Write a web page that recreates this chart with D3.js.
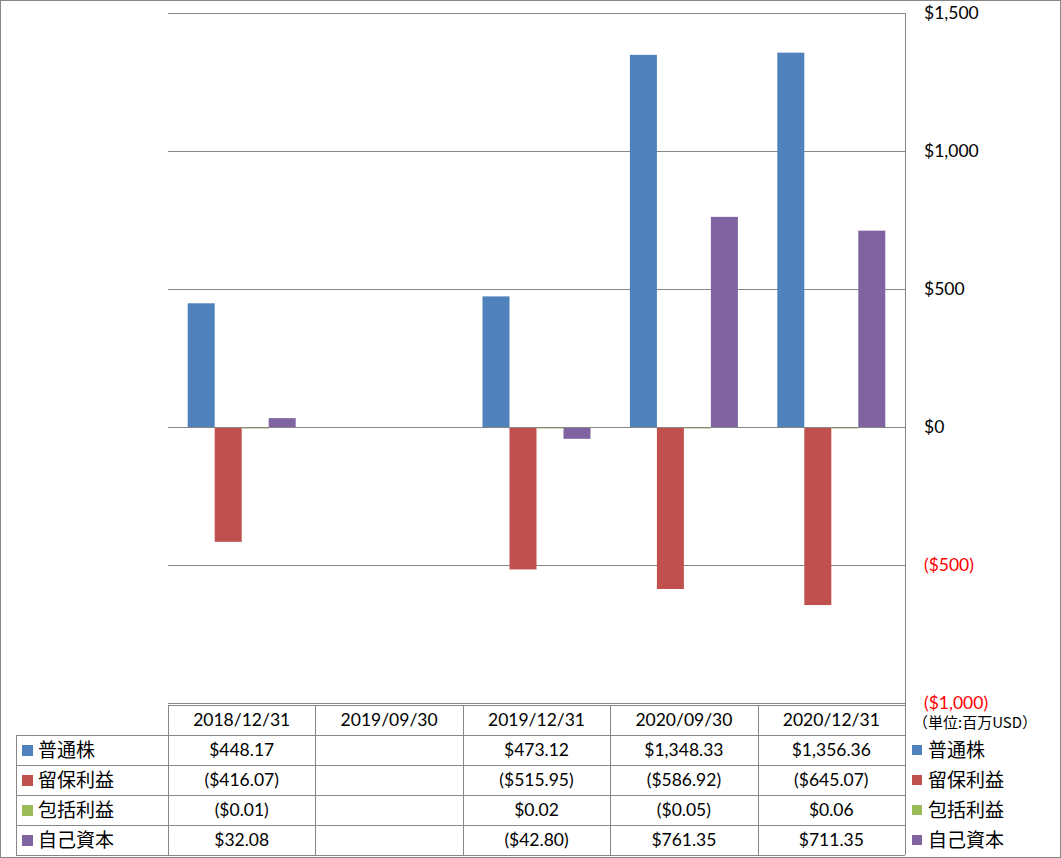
<!DOCTYPE html>
<html>
<head>
<meta charset="utf-8">
<script src="https://cdn.jsdelivr.net/npm/d3@7"></script>
<style>
  body { margin: 0; background: #fff; }
  text { font-family: Lato, "Noto Sans CJK JP", sans-serif; }
</style>
</head>
<body>
<div id="chart"></div>
<script>
var categories = ["2018/12/31", "2019/09/30", "2019/12/31", "2020/09/30", "2020/12/31"];
var seriesNames = ["普通株", "留保利益", "包括利益", "自己資本"];
var seriesColors = ["#4f81bd", "#c0504d", "#9bbb59", "#8064a2"];
var commonStock = [448.17, null, 473.12, 1348.33, 1356.36];
var retainedEarnings = [-416.07, null, -515.95, -586.92, -645.07];
var comprehensiveIncome = [-0.01, null, 0.02, -0.05, 0.06];
var equity = [32.08, null, -42.80, 761.35, 711.35];
var yTicks = [1500, 1000, 500, 0, -500, -1000];
var unitLabel = "（単位:百万USD）";

var seriesValues = [commonStock, retainedEarnings, comprehensiveIncome, equity];

var svgWidth = 1061;
var svgHeight = 858;

var plot = { left: 168, right: 905, top: 13, bottom: 703 };
var rowH = 30;
var tableTop = 705;
var labelLeft = 16;

var svg = d3.select("#chart")
  .append("svg")
  .attr("width", svgWidth)
  .attr("height", svgHeight);

svg.append("rect")
  .attr("x", 0.5).attr("y", 0.5)
  .attr("width", svgWidth - 1).attr("height", svgHeight - 1)
  .attr("fill", "#fff").attr("stroke", "#868686");

var x = d3.scaleBand()
  .domain(categories)
  .range([plot.left, plot.right]);

var xInner = d3.scaleBand()
  .domain(d3.range(seriesNames.length))
  .range([0, x.bandwidth()])
  .paddingOuter(0.73)
  .paddingInner(0);

var y = d3.scaleLinear()
  .domain([-1000, 1500])
  .range([plot.bottom, plot.top]);

// gridlines
svg.append("g")
  .selectAll("line")
  .data(yTicks)
  .enter()
  .append("line")
  .attr("x1", plot.left)
  .attr("x2", plot.right)
  .attr("y1", d => Math.round(y(d)) + 0.5)
  .attr("y2", d => Math.round(y(d)) + 0.5)
  .attr("stroke", "#868686");

// bars
var groups = svg.append("g")
  .selectAll("g")
  .data(seriesValues)
  .enter()
  .append("g")
  .attr("fill", (d, i) => seriesColors[i]);

groups.each(function(vals, si) {
  d3.select(this).selectAll("rect")
    .data(vals.map((v, ci) => ({ v: v, c: categories[ci] })).filter(d => d.v !== null))
    .enter()
    .append("rect")
    .attr("x", d => x(d.c) + xInner(si))
    .attr("width", xInner.bandwidth())
    .attr("y", d => Math.min(y(d.v), y(0)))
    .attr("height", d => Math.max(Math.abs(y(d.v) - y(0)), 1.5));
});

// zero line on top
svg.append("line")
  .attr("x1", plot.left).attr("x2", plot.right)
  .attr("y1", Math.round(y(0)) + 0.5).attr("y2", Math.round(y(0)) + 0.5)
  .attr("stroke", "#868686");

// right axis line
svg.append("line")
  .attr("x1", plot.right + 0.5).attr("x2", plot.right + 0.5)
  .attr("y1", plot.top).attr("y2", tableTop + rowH * 5)
  .attr("stroke", "#868686");

// y tick labels
var fmt = d3.format(",");
svg.append("g")
  .selectAll("text")
  .data(yTicks)
  .enter()
  .append("text")
  .attr("x", 924)
  .attr("y", d => y(d))
  .attr("dy", "0.35em")
  .style("font-size", "17.5px")
  .attr("fill", d => d < 0 ? "#ff0000" : "#000")
  .text(d => d < 0 ? "($" + fmt(-d) + ")" : "$" + fmt(d));

svg.append("text")
  .attr("x", 913)
  .attr("y", 723)
  .attr("dy", "0.35em")
  .style("font-family", "'Noto Sans CJK JP', sans-serif")
  .style("font-size", "15px")
  .text(unitLabel);

// data table
var table = svg.append("g").attr("stroke", "#868686").attr("fill", "none");

table.append("line")
  .attr("x1", plot.left).attr("x2", plot.right)
  .attr("y1", tableTop + 0.5).attr("y2", tableTop + 0.5);

d3.range(1, 6).forEach(function(r) {
  table.append("line")
    .attr("x1", labelLeft).attr("x2", plot.right)
    .attr("y1", tableTop + r * rowH + 0.5).attr("y2", tableTop + r * rowH + 0.5);
});

categories.forEach(function(c) {
  table.append("line")
    .attr("x1", Math.round(x(c)) + 0.5).attr("x2", Math.round(x(c)) + 0.5)
    .attr("y1", tableTop).attr("y2", tableTop + rowH * 5);
});

table.append("line")
  .attr("x1", labelLeft + 0.5).attr("x2", labelLeft + 0.5)
  .attr("y1", tableTop + rowH).attr("y2", tableTop + rowH * 5);

svg.append("g")
  .selectAll("text")
  .data(categories)
  .enter()
  .append("text")
  .attr("x", d => x(d) + x.bandwidth() / 2)
  .attr("y", tableTop + rowH / 2)
  .attr("dy", "0.35em")
  .attr("text-anchor", "middle")
  .style("font-size", "17.5px")
  .text(d => d);

function money(v) {
  var s = "$" + d3.format(",.2f")(Math.abs(v));
  return v < 0 ? "(" + s + ")" : s;
}

seriesNames.forEach(function(name, si) {
  var rowY = tableTop + rowH * (si + 1) + rowH / 2;

  // left legend key
  svg.append("rect")
    .attr("x", 22).attr("y", rowY - 5)
    .attr("width", 11).attr("height", 11)
    .attr("fill", seriesColors[si]);
  svg.append("text")
    .attr("x", 38).attr("y", rowY)
    .attr("dy", "0.35em")
    .style("font-size", "19px")
    .text(name);

  // right legend
  svg.append("rect")
    .attr("x", 912).attr("y", rowY - 5)
    .attr("width", 10).attr("height", 10)
    .attr("fill", seriesColors[si]);
  svg.append("text")
    .attr("x", 928).attr("y", rowY)
    .attr("dy", "0.35em")
    .style("font-size", "19px")
    .text(name);

  svg.append("g")
    .selectAll("text")
    .data(seriesValues[si].map((v, ci) => ({ v: v, c: categories[ci] })).filter(d => d.v !== null))
    .enter()
    .append("text")
    .attr("x", d => x(d.c) + x.bandwidth() / 2)
    .attr("y", rowY)
    .attr("dy", "0.35em")
    .attr("text-anchor", "middle")
    .style("font-size", "17.5px")
    .text(d => money(d.v));
});
</script>
</body>
</html>
